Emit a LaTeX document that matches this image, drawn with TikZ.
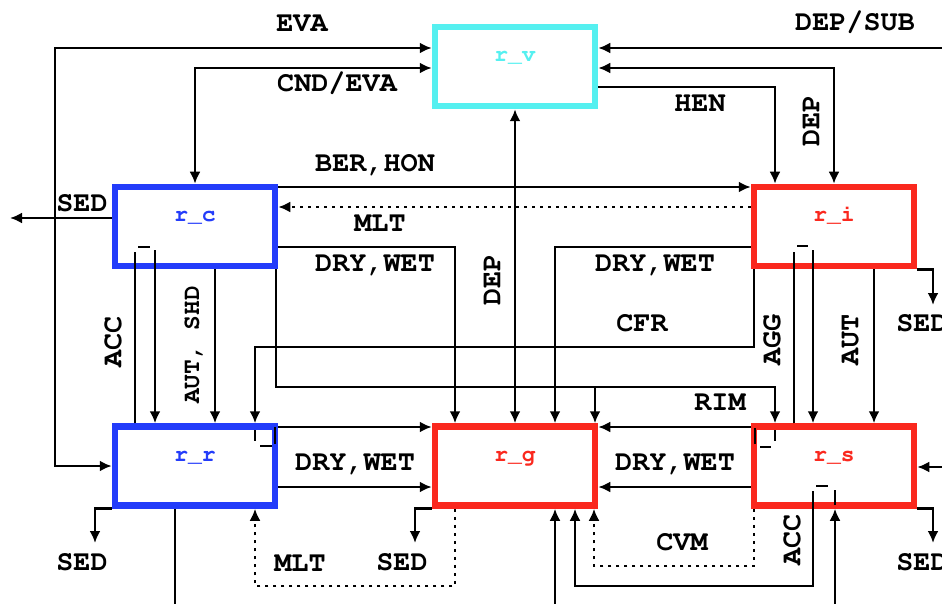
\documentclass[tikz,border=0pt]{standalone}
\usepackage[T1]{fontenc}
\usepackage{courier}
\usetikzlibrary{arrows.meta}
\definecolor{boxcyan}{RGB}{85,240,240}
\definecolor{boxblue}{RGB}{35,60,250}
\definecolor{boxred}{RGB}{250,40,30}

\begin{document}
\begin{tikzpicture}[x=1pt,y=-1pt,line width=2.6pt,>={Latex[length=12pt,width=11pt]},
  box/.style={draw,line width=6.5pt,minimum width=160pt,minimum height=79pt,inner sep=0pt,text height=5pt,text depth=14pt,font=\fontsize{23}{27}\selectfont\ttfamily\bfseries},
  lab/.style={inner sep=1pt,text height=16.5pt,text depth=0pt,font=\fontsize{28.5}{32}\selectfont\ttfamily\bfseries},
  dots/.style={dash pattern=on 3pt off 5pt}]
\path[use as bounding box] (0,0) rectangle (942,604);
\node[box,draw=boxcyan,text=boxcyan] (rv) at (515,66.5) {r\_v};
\node[box,draw=boxblue,text=boxblue] (rc) at (195,226.5) {r\_c};
\node[box,draw=boxred,text=boxred] (ri) at (834,226.5) {r\_i};
\node[box,draw=boxblue,text=boxblue] (rr) at (195,466) {r\_r};
\node[box,draw=boxred,text=boxred] (rg) at (515,466) {r\_g};
\node[box,draw=boxred,text=boxred] (rs) at (834,466) {r\_s};
\coordinate (subin) at (942,48);
\coordinate (sin) at (942,467);
\coordinate (sedc) at (10,218);
\coordinate (sedi) at (933,305);
\coordinate (sedr) at (95,543);
\coordinate (sedg) at (415,543);
\coordinate (seds) at (933,543);
\draw[<->] (rr.west) -| (55,48) -- (rv.west |- 0,48);
\draw[<->] (rv.west |- 0,68) -| (rc.north);
\draw[->] (subin) -- (rv.east |- subin);
\draw[<->] (rv.east |- 0,68) -| (ri.north);
\draw[->] (rv.east |- 0,87) -| (775,0 |- ri.north);
\draw[->] (rc.east |- 0,187) -- (ri.west |- 0,187);
\draw[->,dots] (ri.west |- 0,207) -- (rc.east |- 0,207);
\draw[->] (rc.east |- 0,247) -| (455,0 |- rg.north);
\draw[<->] (rg.north) -- (rv.south);
\draw[->] (ri.west |- 0,247) -| (555,0 |- rg.north);
\draw[->] (754,0 |- ri.south) |- (255,347) -- (255,0 |- rr.north);
\draw[->] (276,0 |- rc.south) |- (775,387) -- (775,0 |- rs.north);
\draw[->] (595,387) -- (595,0 |- rg.north);
\draw[->] (rs.west |- 0,427) -- (rg.east |- 0,427);
\draw[->] (rs.west |- 0,487) -- (rg.east |- 0,487);
\draw[->] (rr.east |- 0,427) -- (rg.west |- 0,427);
\draw[->] (rr.east |- 0,487) -- (rg.west |- 0,487);
\draw (135,0 |- rr.north) -- (135,252) (138,247) -- (150,247);
\draw[->] (155,250) -- (155,0 |- rr.north);
\draw[->] (215,0 |- rc.south) -- (215,0 |- rr.north);
\draw (255,430) -- (255,441) (260,446) -- (272,446) (275,444) -- (275,427);
\draw (794,0 |- rs.north) -- (794,252) (797,246) -- (808,246);
\draw[->] (813,250) -- (813,0 |- rs.north);
\draw[->] (874,0 |- ri.south) -- (874,0 |- rs.north);
\draw (775,430) -- (775,441) (760,447) -- (771,447) (755,444) -- (755,428);
\draw (835,505) -- (835,490) (816,486) -- (828,486);
\draw[->] (813,491) -- (813,586) -| (575,0 |- rg.south);
\draw[->,dots] (754,0 |- rs.south) -- (754,566) -| (594,0 |- rg.south);
\draw[->,dots] (455,0 |- rg.south) -- (455,586) -| (255,0 |- rr.south);
\draw[->] (175,0 |- rr.south) |- (835,606) -- (835,0 |- rs.south);
\draw[->] (555,606) -- (555,0 |- rg.south);
\draw[->] (rc.west |- sedc) -- (sedc);
\draw[->] (ri.south east) -| (sedi);
\draw[->] (rr.south west) -| (sedr);
\draw[->] (rg.south west) -| (sedg);
\draw[->] (rs.south east) -| (seds);
\draw[->] (sin) -- (rs.east |- sin);
\node[lab] (leva) at (302,23) {EVA};
\node[lab] (lcnd) at (337,83) {CND/EVA};
\node[lab] (ldepsub) at (855,22) {DEP/SUB};
\node[lab] (lhen) at (700,103) {HEN};
\node[lab,rotate=90] (ldepi) at (811,121) {DEP};
\node[lab] (lber) at (375,163) {BER,HON};
\node[lab] (lmltc) at (380,223) {MLT};
\node[lab] (ldwc) at (375,263) {DRY,WET};
\node[lab] (ldwi) at (655,263) {DRY,WET};
\node[lab,rotate=90] (ldepg) at (492,280) {DEP};
\node[lab] (lsedc) at (82,203) {SED};
\node[lab,rotate=90] (laccr) at (113,342) {ACC};
\node[lab,rotate=90,text height=14pt,font=\fontsize{24.5}{28}\selectfont\ttfamily\bfseries] (lautr) at (192,345) {AUT, SHD};
\node[lab] (lcfr) at (642,323) {CFR};
\node[lab,rotate=90] (lagg) at (772,340) {AGG};
\node[lab,rotate=90] (lauts) at (850,340) {AUT};
\node[lab] (lsedi) at (922,323) {SED};
\node[lab] (lrim) at (720,402) {RIM};
\node[lab] (ldwr) at (355,462) {DRY,WET};
\node[lab] (ldws) at (675,462) {DRY,WET};
\node[lab] (lsedr) at (82,562) {SED};
\node[lab] (lmltr) at (300,563) {MLT};
\node[lab] (lsedg) at (402,562) {SED};
\node[lab] (lcvm) at (682,542) {CVM};
\node[lab,rotate=90] (laccs) at (792,540) {ACC};
\node[lab] (lseds) at (922,562) {SED};
\end{tikzpicture}
\end{document}
